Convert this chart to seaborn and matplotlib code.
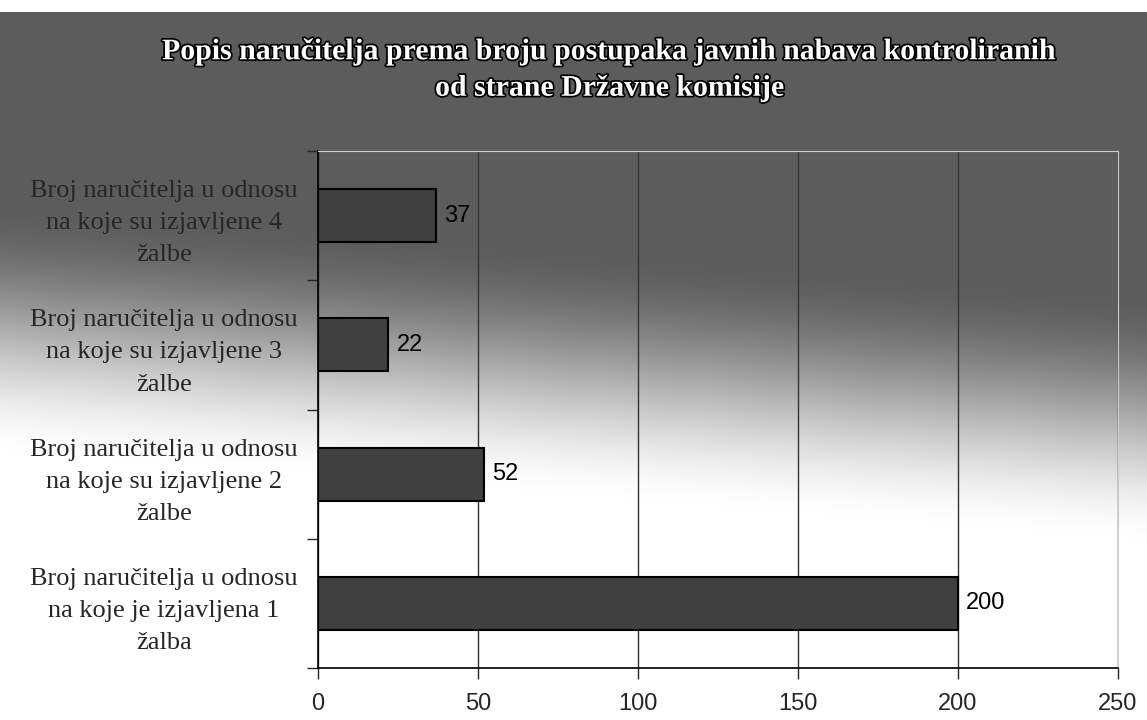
import matplotlib
matplotlib.use('Agg')

import matplotlib.pyplot as plt
import matplotlib.patheffects as pe
import numpy as np
import pandas as pd
import seaborn as sns

# chart data, top to bottom
categories = ['Broj naručitelja u odnosu\nna koje su izjavljene 4\nžalbe',
              'Broj naručitelja u odnosu\nna koje su izjavljene 3\nžalbe',
              'Broj naručitelja u odnosu\nna koje su izjavljene 2\nžalbe',
              'Broj naručitelja u odnosu\nna koje je izjavljena 1\nžalba']
values = [37, 22, 52, 200]
x_ticks = [0, 50, 100, 150, 200, 250]
title = 'Popis naručitelja prema broju postupaka javnih nabava kontroliranih\nod strane Državne komisije'

df = pd.DataFrame({'kategorija': categories, 'broj': values})

sns.set_style('white')
plt.rcParams['font.family'] = ['Liberation Serif', 'DejaVu Serif']

fig = plt.figure(figsize=(11.47, 7.2), dpi=100)

# dark-to-white gradient behind everything (scanned chart background)
bg = fig.add_axes([0, 0, 1, 1], zorder=-10)
W, H = 1147, 720
yy, xx = np.mgrid[0:H, 0:W]
t = (yy - 200 - 90 * xx / W) / 260.0
t = np.clip(t, 0, 1)
t = t * t * (3 - 2 * t)
shade = 0.36 + 0.64 * t
shade[yy < 12] = 1.0
bg.imshow(shade, cmap='gray', vmin=0, vmax=1, aspect='auto',
          extent=[0, 1, 0, 1], origin='upper')
bg.axis('off')

ax = fig.add_axes([318 / W, 1 - 668 / H, 800 / W, 517 / H])
ax.patch.set_alpha(0)

sns.barplot(data=df, x='broj', y='kategorija', orient='h', width=0.41,
            color='#404040', edgecolor='black', linewidth=1.5, saturation=1,
            ax=ax, zorder=3)

ax.set_xlim(0, 250)
ax.set_ylim(3.5, -0.5)
ax.set_xticks(x_ticks)
ax.set_xticklabels([str(v) for v in x_ticks], family='Liberation Sans', fontsize=17)
ax.tick_params(axis='x', length=8, width=1, pad=10, direction='out', bottom=True)
ax.set_yticks(range(len(categories)))
ax.set_yticklabels(categories, fontsize=19, linespacing=1.6, ha='center')
# pad is in points: puts the centre of the labels at about x = 163 px
ax.tick_params(axis='y', length=0, pad=111)
ax.set_yticks([-0.5, 0.5, 1.5, 2.5, 3.5], minor=True)
ax.tick_params(axis='y', which='minor', length=8, width=1, left=True)
ax.set_xlabel('')
ax.set_ylabel('')

ax.grid(axis='x', color='#333333', linewidth=1, zorder=1)
for s in ['top', 'right']:
    ax.spines[s].set_color('#cccccc')
for s in ['left', 'bottom']:
    ax.spines[s].set_color('black')
    ax.spines[s].set_linewidth(1.2)

for i, v in enumerate(values):
    ax.text(v + 2.5, i, str(v), va='center', ha='left', fontsize=17,
            family='Liberation Sans', color='black', zorder=5)

fig.text(610 / W, 1 - 70 / H, title, ha='center', va='center', fontsize=21.5,
         fontweight='bold', color='white', linespacing=1.45,
         path_effects=[pe.withStroke(linewidth=2.5, foreground='black')])

fig.savefig('out.png', dpi=100)
plt.close()
